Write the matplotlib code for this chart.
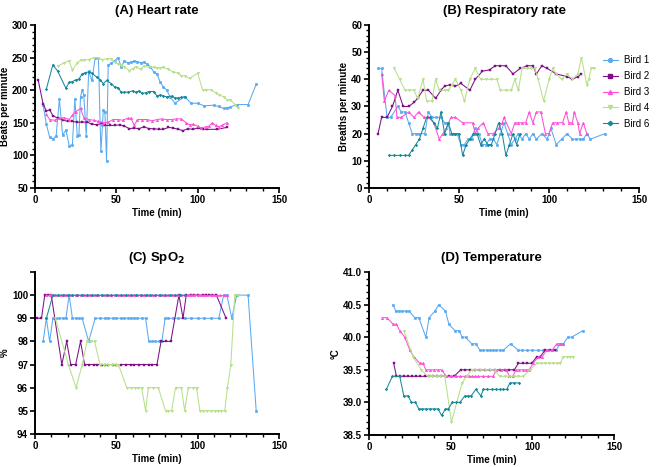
import matplotlib
matplotlib.use("Agg")
import matplotlib.pyplot as plt
from matplotlib.ticker import MultipleLocator, FormatStrFormatter
from matplotlib.lines import Line2D

plt.rcParams['font.family'] = ['Liberation Sans', 'DejaVu Sans']

birds = ["Bird 1", "Bird 2", "Bird 3", "Bird 4", "Bird 6"]
colors = ["#5aaaf2", "#7f0f86", "#ff4fd8", "#b6e08a", "#178a99"]
markers = ["o", "s", "^", "v", "P"]

# ---------------- (A) Heart rate ----------------
hr_t1 = [5, 7, 9, 11, 13, 15, 17, 19, 21, 23, 24.5, 26, 27, 28, 29, 30, 31.5, 33, 35, 37, 39, 40.5, 41.5, 42, 43, 44, 45, 47, 49, 51, 53, 55, 57, 59, 61, 63, 65, 67, 69, 71, 73, 75, 77, 79, 81, 83, 86, 92, 96, 100, 104, 110, 113, 116, 118, 120, 124, 131, 136]
hr_v1 = [177, 148, 128, 125, 130, 186, 131, 139, 115, 116, 187, 130, 131, 190, 200, 193, 130, 229, 215, 250, 250, 106, 147, 170, 166, 91, 238, 242, 245, 250, 236, 245, 242, 243, 245, 244, 242, 243, 240, 236, 228, 225, 212, 205, 200, 190, 180, 190, 180, 180, 176, 177, 175, 172, 173, 174, 178, 178, 209]
hr_t2 = [2, 5, 7, 9, 11, 14, 17, 20, 23, 26, 29, 32, 35, 38, 41, 43, 46, 49, 52, 55, 58, 61, 64, 67, 70, 73, 76, 79, 82, 85, 88, 91, 94, 97, 100, 103, 106, 112, 118]
hr_v2 = [215, 179, 168, 170, 161, 157, 155, 152, 152, 151, 151, 151, 148, 147, 149, 146, 146, 146, 147, 145, 141, 142, 141, 144, 141, 141, 140, 140, 143, 142, 140, 138, 141, 140, 142, 140, 140, 140, 143]
hr_t3 = [7, 9, 12, 15, 18, 21, 23, 25, 28, 30, 33, 36, 39, 42, 45, 48, 51, 54, 57, 59, 61, 63, 66, 69, 72, 75, 78, 81, 84, 87, 90, 93, 95, 97, 100, 102, 105, 107, 109, 111, 113, 115, 118]
hr_v3 = [163, 155, 154, 157, 158, 155, 162, 167, 172, 158, 155, 154, 152, 150, 151, 155, 155, 154, 157, 157, 146, 155, 155, 155, 153, 155, 156, 155, 155, 156, 156, 150, 147, 148, 145, 142, 144, 145, 150, 146, 144, 146, 150]
hr_t4 = [14, 18, 21, 23, 26, 28, 30, 33, 36, 39, 41, 44, 47, 49, 51, 53, 55, 58, 60, 62, 65, 67, 70, 73, 75, 77, 79, 82, 85, 88, 90, 92, 95, 100, 103, 105, 108, 111, 113, 116, 118, 120, 123, 125]
hr_v4 = [237, 242, 245, 231, 242, 246, 246, 247, 250, 250, 247, 248, 248, 243, 240, 238, 236, 230, 233, 236, 232, 237, 235, 235, 234, 234, 235, 232, 228, 226, 222, 222, 218, 226, 201, 200, 201, 196, 193, 190, 185, 185, 178, 172]
hr_t6 = [7, 11, 14, 19, 21, 23, 25, 27, 29, 31, 33, 35, 38, 40, 42, 44, 47, 49, 51, 53, 55, 57, 60, 62, 64, 66, 68, 70, 73, 75, 77, 79, 81, 84, 86, 88, 90, 92]
hr_v6 = [202, 239, 229, 203, 212, 213, 216, 217, 225, 227, 228, 226, 220, 216, 210, 215, 210, 205, 204, 197, 197, 197, 199, 197, 199, 195, 196, 198, 198, 191, 193, 191, 190, 191, 188, 188, 189, 190]

# ---------------- (B) Respiratory rate ----------------
rr_t1 = [5, 7, 10, 12, 16, 18, 20, 22, 24, 26, 28, 31, 33, 35, 37, 40, 42, 44, 45, 47, 49, 51, 53, 55, 57, 59, 61, 63, 65, 67, 69, 71, 73, 75, 77, 79, 81, 83, 85, 87, 89, 91, 93, 96, 99, 101, 104, 107, 110, 113, 115, 117, 119, 121, 123, 131]
rr_v1 = [44, 44, 26, 26, 30, 28, 28, 24, 20, 20, 20, 20, 28, 26, 26, 26, 24, 24, 20, 20, 20, 16, 16, 18, 18, 22, 20, 16, 16, 18, 18, 16, 20, 24, 20, 16, 18, 20, 18, 20, 18, 20, 18, 20, 18, 22, 16, 18, 20, 18, 18, 18, 18, 20, 18, 20]
rr_t2 = [5, 7, 10, 13, 16, 19, 22, 25, 27, 30, 33, 37, 40, 42, 45, 48, 51, 56, 59, 63, 67, 70, 73, 76, 80, 84, 88, 91, 93, 96, 99, 104, 110, 113, 116, 118]
rr_v2 = [20, 26, 26, 30, 36, 30, 30, 31.5, 33, 36, 36, 33, 36, 37.5, 38, 37.5, 38.5, 36, 40, 43, 43.5, 45, 45, 45, 42, 44, 45, 45, 42, 45, 44, 42, 41, 40, 41, 42]
rr_t3 = [7, 8.5, 11, 14.5, 15.5, 18, 22, 25, 27.5, 30.5, 33, 36, 39, 41, 43, 45.5, 48, 52, 57.5, 59, 60.5, 63.5, 66, 69, 72, 74, 75, 79, 81, 83, 85, 87, 89, 91, 93, 95.5, 98, 100, 102, 104.5, 107.5, 109.5, 111, 113, 114, 116, 117, 119, 121]
rr_v3 = [42, 32, 36, 34, 26, 26, 28, 26, 28, 26, 26, 24, 18, 20, 22, 26, 26, 24, 24, 20, 22, 24, 20, 20, 22, 24, 26, 20, 24, 24, 24, 24, 28, 24, 28, 28, 20, 20, 24, 24, 24, 28, 24, 24, 28, 24, 20, 24, 20]
rr_t4 = [14, 17, 20, 22, 25, 27, 30, 32, 35, 37, 39, 42, 44, 46, 48, 51, 53, 56, 59, 62, 65, 68, 71, 73, 76, 79, 81, 83, 85, 88, 90, 92, 94, 97, 100, 102, 104, 107, 110, 113, 116, 118, 121, 122, 123.5, 125]
rr_v4 = [44, 40, 36, 36, 36, 33, 40, 32, 32, 40, 36, 36, 36, 38, 40, 36, 32, 40, 44, 40, 40, 40, 40, 36, 36, 36, 40, 36, 44, 44, 44, 44, 40, 32, 40, 44, 42, 40, 42, 40, 42, 48, 38, 40, 44, 44]
rr_t6 = [11, 14, 17, 20, 22, 24, 26, 28, 30, 32, 34, 36, 38, 40, 42, 44, 46, 48, 50, 52, 54, 56, 58, 60, 62, 64, 66, 68, 70, 72, 74, 76, 78, 80, 82, 84]
rr_v6 = [12, 12, 12, 12, 12, 14, 16, 18, 22, 26, 26, 24, 22, 28, 20, 24, 20, 20, 20, 12, 16, 18, 20, 20, 16, 18, 16, 16, 20, 24, 20, 12, 16, 20, 16, 20]

# ---------------- (C) SpO2 ----------------
sp_t1 = [5, 7, 9, 11, 13, 15, 17, 19, 21, 23, 25, 27, 29, 33, 37, 40, 43, 45, 48, 50, 53, 55, 57, 59, 61, 63, 66, 68, 70, 72, 74, 76, 78, 80, 82, 85, 88, 92, 96, 100, 104, 108, 113, 116, 118, 121, 124, 131, 136]
sp_v1 = [98, 99, 98, 99, 99, 99, 99, 99, 100, 99, 99, 99, 99, 98, 99, 99, 99, 99, 99, 99, 99, 99, 99, 99, 99, 99, 99, 99, 98, 98, 98, 98, 98, 99, 99, 99, 99, 99, 99, 99, 99, 99, 99, 100, 100, 99, 100, 100, 95]
sp_t2 = [1, 4, 6, 8, 10, 16.5, 19.5, 22, 25, 28, 30.5, 33, 36, 38, 41, 43, 45, 48, 50, 53, 56, 59, 61, 64, 67, 70, 72, 75, 77.5, 80.5, 83.5, 88.5, 91, 93, 96, 98, 100, 103, 105, 107, 109, 111.5, 117.5]
sp_v2 = [99, 99, 100, 100, 100, 97, 98, 97, 97, 98, 97, 97, 97, 97, 97, 97, 97, 97, 97, 97, 97, 97, 97, 97, 97, 97, 97, 97, 98, 98, 98, 100, 99, 100, 100, 100, 100, 100, 100, 100, 100, 100, 99]
sp_t3 = [7, 9, 10, 12, 14, 16, 18, 19, 21, 23, 25, 26, 28, 30, 32, 34, 35, 37, 39, 41, 43, 45, 47, 49, 51, 53, 55, 57, 59, 61, 63, 65, 67, 69, 71, 72, 74, 76, 78, 80, 82, 84, 86, 88, 90, 92, 94, 96, 98, 100, 102, 104, 106, 108, 110, 112, 114, 116, 118]
sp_v3 = [100, 100, 100, 100, 100, 100, 100, 100, 100, 100, 100, 100, 100, 100, 100, 100, 100, 100, 100, 100, 100, 100, 100, 100, 100, 100, 100, 100, 100, 100, 100, 100, 100, 100, 100, 100, 100, 100, 100, 100, 100, 100, 100, 100, 100, 100, 100, 100, 100, 100, 100, 100, 100, 100, 100, 100, 100, 100, 100]
sp_t4 = [12.5, 20.5, 25.3, 29, 32, 34.5, 36.6, 40, 42.5, 45, 47.5, 49.5, 51.3, 56.4, 59, 61.5, 63.5, 65.6, 68, 69.7, 72.5, 75.8, 80.3, 82, 84, 86.4, 90, 92, 94.2, 97.3, 99.3, 101.4, 103.5, 105.5, 108, 110.5, 112.5, 114.5, 116.7, 118.3, 120.4, 122.8, 124.9]
sp_v4 = [99, 97, 96, 97, 98, 98, 98, 97, 97, 97, 97, 97, 97, 96, 96, 96, 96, 96, 95, 96, 96, 96, 95, 95, 95, 96, 96, 95, 96, 96, 96, 95, 95, 95, 95, 95, 95, 95, 95, 96, 97, 100, 100]
sp_t6 = [7, 11, 14, 17, 20, 23, 26, 29, 32, 35, 38, 41, 44, 47, 50, 53, 56, 59, 62, 65, 68, 71, 74, 77, 80, 83, 86, 89, 92]
sp_v6 = [99, 100, 100, 100, 100, 100, 100, 100, 100, 100, 100, 100, 100, 100, 100, 100, 100, 100, 100, 100, 100, 100, 100, 100, 100, 100, 100, 100, 100]

# ---------------- (D) Temperature ----------------
tp_t1 = [14.7, 16.4, 18.4, 20.4, 22.5, 24.5, 28, 30.5, 34.8, 36.8, 40.3, 42.7, 46.8, 48.9, 52.6, 55.2, 57, 59.1, 62.8, 65.4, 67.9, 70, 72, 74, 76, 78, 80, 82.2, 86.7, 91.4, 93.5, 96.5, 99.5, 103.7, 106.5, 109.8, 112, 114.5, 117, 119, 121.7, 124, 130.9]
tp_v1 = [40.5, 40.4, 40.4, 40.4, 40.4, 40.4, 40.3, 40.3, 40.0, 40.3, 40.4, 40.5, 40.4, 40.2, 40.1, 40.1, 40.0, 40.0, 39.9, 39.9, 39.8, 39.8, 39.8, 39.8, 39.8, 39.8, 39.8, 39.8, 39.9, 39.8, 39.8, 39.8, 39.8, 39.8, 39.8, 39.8, 39.8, 39.8, 39.9, 39.9, 40.0, 40.0, 40.1]
tp_t2 = [15.1, 16.8, 19, 21.5, 24, 26.5, 29, 31.5, 34, 36.5, 39, 41.5, 44, 46.5, 49, 52, 56.2, 59, 62, 65, 68, 71, 74, 77, 80, 83, 86, 89, 91.4, 94, 96.5, 99.6, 102.7, 104.7, 107.8, 111, 114]
tp_v2 = [39.6, 39.4, 39.4, 39.4, 39.4, 39.4, 39.4, 39.4, 39.4, 39.4, 39.4, 39.4, 39.4, 39.4, 39.4, 39.4, 39.5, 39.5, 39.5, 39.5, 39.5, 39.5, 39.5, 39.5, 39.5, 39.5, 39.5, 39.5, 39.6, 39.6, 39.6, 39.6, 39.7, 39.7, 39.8, 39.8, 39.8]
tp_t3 = [8.2, 11, 14.7, 16.8, 18.8, 21.9, 25, 27.4, 31.1, 33, 34.8, 37.5, 40, 42, 44.4, 47.4, 50, 53, 56, 59, 61, 63, 65, 67, 70, 73, 76, 78, 81, 84, 86, 88, 90, 92, 94, 96, 98, 100.5, 103.7, 106, 108.8, 112, 115, 117, 119]
tp_v3 = [40.3, 40.3, 40.2, 40.2, 40.1, 40.0, 39.8, 39.7, 39.6, 39.6, 39.5, 39.5, 39.5, 39.5, 39.5, 39.4, 39.4, 39.4, 39.4, 39.4, 39.4, 39.4, 39.4, 39.4, 39.4, 39.4, 39.4, 39.5, 39.5, 39.5, 39.4, 39.4, 39.5, 39.5, 39.5, 39.5, 39.5, 39.6, 39.7, 39.7, 39.8, 39.8, 39.9, 39.9, 39.9]
tp_t4 = [21.3, 27, 32, 36, 38.5, 41, 43.5, 46.4, 50.5, 57, 59.7, 62.8, 65, 68, 71, 74, 77, 80, 83, 86, 88.5, 91, 94.5, 98.6, 102.7, 105, 107.5, 110, 112.5, 115, 117, 119, 121, 123, 125]
tp_v4 = [40.1, 39.7, 39.5, 39.4, 39.4, 39.4, 39.4, 39.4, 38.7, 39.3, 39.4, 39.5, 39.5, 39.5, 39.5, 39.5, 39.5, 39.4, 39.4, 39.4, 39.4, 39.4, 39.4, 39.5, 39.6, 39.6, 39.6, 39.6, 39.6, 39.6, 39.6, 39.7, 39.7, 39.7, 39.7]
tp_t6 = [10.6, 14.3, 18.8, 21.3, 23.9, 26, 28.4, 30.5, 32.5, 35, 37.5, 40, 42.3, 44.4, 46.8, 48.5, 51, 53, 55.6, 58.7, 60.7, 62.5, 65.4, 68.5, 70, 72.5, 75, 77.5, 80, 82, 84.3, 86.3, 88.5, 91.8]
tp_v6 = [39.2, 39.4, 39.4, 39.1, 39.1, 39.0, 39.0, 38.9, 38.9, 38.9, 38.9, 38.9, 38.9, 38.8, 38.9, 38.9, 39.0, 39.0, 39.0, 39.1, 39.1, 39.1, 39.2, 39.1, 39.2, 39.2, 39.2, 39.2, 39.2, 39.2, 39.2, 39.3, 39.3, 39.3]

panels = [
    dict(title="(A) Heart rate", ylabel="Beats per minute",
         series=[(hr_t1, hr_v1), (hr_t2, hr_v2), (hr_t3, hr_v3), (hr_t4, hr_v4), (hr_t6, hr_v6)],
         rect=[0.0523, 0.5974, 0.3647, 0.3491], ylim=(50, 300), ymaj=50, ymin=10, fmt=None),
    dict(title="(B) Respiratory rate", ylabel="Breaths per minute",
         series=[(rr_t1, rr_v1), (rr_t2, rr_v2), (rr_t3, rr_v3), (rr_t4, rr_v4), (rr_t6, rr_v6)],
         rect=[0.5516, 0.5974, 0.4036, 0.3491], ylim=(0, 60), ymaj=10, ymin=2, fmt=None),
    dict(title="(C) SpO$_\\mathbf{2}$", ylabel="%",
         series=[(sp_t1, sp_v1), (sp_t2, sp_v2), (sp_t3, sp_v3), (sp_t4, sp_v4), (sp_t6, sp_v6)],
         rect=[0.0523, 0.0707, 0.3647, 0.3469], ylim=(94, 101), ymaj=1, ymin=None, fmt=None),
    dict(title="(D) Temperature", ylabel="°C",
         series=[(tp_t1, tp_v1), (tp_t2, tp_v2), (tp_t3, tp_v3), (tp_t4, tp_v4), (tp_t6, tp_v6)],
         rect=[0.5516, 0.0685, 0.3662, 0.3490], ylim=(38.5, 41.0), ymaj=0.5, ymin=0.1, fmt="%.1f"),
]

fig = plt.figure(figsize=(6.69, 4.67), dpi=100)

for p in panels:
    ax = fig.add_axes(p["rect"])
    for (t, v), c, m in zip(p["series"], colors, markers):
        ax.plot(t, v, color=c, marker=m, markersize=1.9, linewidth=0.75,
                markeredgewidth=0.3, clip_on=False)
    ax.set_xlim(0, 150)
    ax.set_ylim(*p["ylim"])
    ax.xaxis.set_major_locator(MultipleLocator(50))
    ax.xaxis.set_minor_locator(MultipleLocator(10))
    if p["ylim"] == (94, 101):
        ax.set_yticks([94, 95, 96, 97, 98, 99, 100, 101])
        ax.set_yticklabels(["94", "95", "96", "97", "98", "99", "100", ""])
    else:
        ax.yaxis.set_major_locator(MultipleLocator(p["ymaj"]))
        if p["ymin"]:
            ax.yaxis.set_minor_locator(MultipleLocator(p["ymin"]))
    if p["fmt"]:
        ax.yaxis.set_major_formatter(FormatStrFormatter(p["fmt"]))
    for s in ["top", "right"]:
        ax.spines[s].set_visible(False)
    for s in ["left", "bottom"]:
        ax.spines[s].set_linewidth(1.4)
    ax.tick_params(which="major", direction="out", length=3.5, width=1.2, labelsize=7, pad=1.5)
    ax.tick_params(which="minor", direction="out", length=2.2, width=1.0)
    for lab in ax.get_xticklabels() + ax.get_yticklabels():
        lab.set_fontweight("bold")
    ax.set_xlabel("Time (min)", fontsize=7, fontweight="bold", labelpad=2)
    ax.set_ylabel(p["ylabel"], fontsize=7, fontweight="bold", labelpad=1.5)
    ax.set_title(p["title"], fontsize=9.5, fontweight="bold", pad=8)

handles = [Line2D([0], [0], color=c, marker=m, markersize=2.8, linewidth=0.8)
           for c, m in zip(colors, markers)]
fig.legend(handles, birds, loc="upper left", bbox_to_anchor=(0.895, 0.89),
           frameon=False, fontsize=7, handlelength=1.6, labelspacing=0.6,
           handletextpad=0.6, borderaxespad=0)

fig.savefig("out.png", dpi=100)
